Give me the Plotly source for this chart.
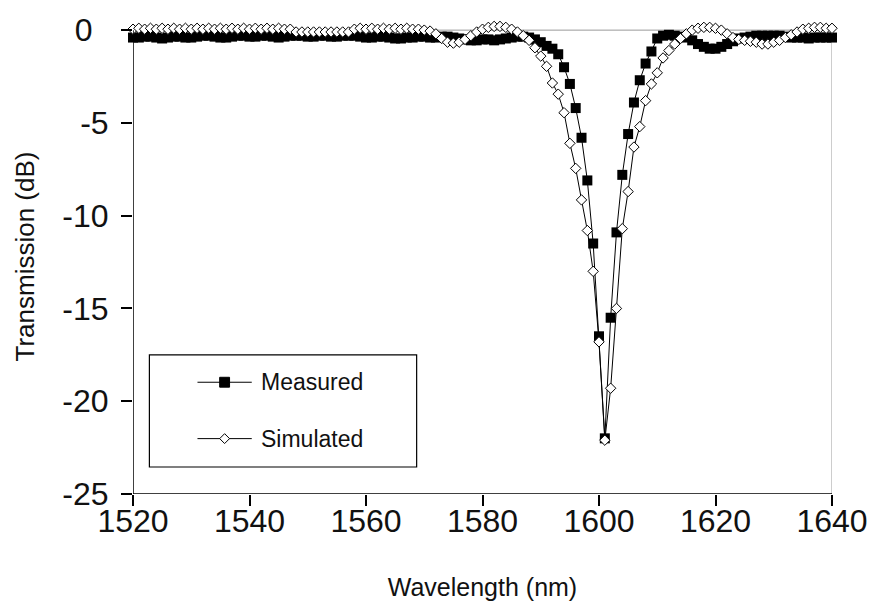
import plotly.graph_objects as go

# Wavelength grid (nm)
wavelength = list(range(1520, 1641))

# Measured transmission (dB)
measured = [
    -0.40, -0.40, -0.35, -0.35, -0.40, -0.45, -0.40, -0.35, -0.35, -0.40,
    -0.40, -0.35, -0.30, -0.30, -0.35, -0.40, -0.40, -0.35, -0.30, -0.30,
    -0.35, -0.35, -0.30, -0.30, -0.35, -0.40, -0.35, -0.30, -0.30, -0.30,
    -0.35, -0.35, -0.30, -0.30, -0.35, -0.35, -0.30, -0.30, -0.30, -0.35,
    -0.40, -0.40, -0.35, -0.35, -0.40, -0.45, -0.45, -0.40, -0.40, -0.35,
    -0.35, -0.40, -0.40, -0.35, -0.35, -0.40, -0.45, -0.50, -0.55, -0.55,
    -0.50, -0.50, -0.55, -0.50, -0.45, -0.40, -0.35, -0.35, -0.40, -0.50,
    -0.65, -0.85, -1.00, -1.30, -2.00, -2.90, -4.20, -5.80, -8.10, -11.50,
    -16.50, -22.00, -15.50, -10.90, -7.80, -5.60, -3.90, -2.70, -1.80, -1.15,
    -0.45, -0.30, -0.25, -0.30, -0.35, -0.40, -0.55, -0.75, -0.90, -1.00,
    -1.00, -0.90, -0.75, -0.60, -0.45, -0.40, -0.35, -0.30, -0.30, -0.30,
    -0.30, -0.30, -0.35, -0.40, -0.40, -0.40, -0.45, -0.40, -0.40, -0.40,
    -0.40,
]

# Simulated transmission (dB)
simulated = [
    0.05, 0.10, 0.05, 0.10, 0.05, 0.10, 0.05, 0.10, 0.05, 0.10,
    0.05, 0.10, 0.05, 0.10, 0.05, 0.10, 0.05, 0.10, 0.05, 0.10,
    0.05, 0.10, 0.05, 0.10, 0.05, 0.10, 0.05, 0.05, -0.10, -0.10,
    -0.10, -0.10, -0.10, -0.10, -0.10, -0.10, -0.10, -0.10, 0.05, 0.10,
    0.05, 0.10, 0.05, 0.10, 0.05, 0.10, 0.05, 0.10, 0.05, 0.05,
    0.00, -0.05, -0.20, -0.45, -0.65, -0.70, -0.65, -0.50, -0.30, -0.10,
    0.05, 0.15, 0.20, 0.20, 0.15, 0.05, -0.10, -0.30, -0.55, -0.95,
    -1.40, -1.95, -2.85, -3.45, -4.45, -6.10, -7.45, -9.15, -10.80, -13.00,
    -16.80, -22.10, -19.30, -15.00, -10.70, -8.70, -6.30, -5.20, -3.80, -2.90,
    -2.30, -1.50, -1.10, -0.75, -0.45, -0.20, 0.00, 0.10, 0.15, 0.15,
    0.10, 0.00, -0.20, -0.40, -0.50, -0.55, -0.60, -0.65, -0.75, -0.75,
    -0.65, -0.55, -0.40, -0.25, -0.10, 0.05, 0.10, 0.15, 0.15, 0.10,
    0.10,
]

x_ticks = [1520, 1540, 1560, 1580, 1600, 1620, 1640]
y_ticks = [0, -5, -10, -15, -20, -25]
y_tick_text = ["0\u2002", "-5", "-10", "-15", "-20", "-25"]

FONT = "Liberation Sans, Arial, sans-serif"
INK = "#111111"

W, H = 880, 613
X0, X1 = 132.7, 840.7          # plot area, pixels
Y_TOP_VAL, Y_BOT = 0.6, 494.0  # y range top value, bottom pixel
PX_PER_DB = 18.76
plot_h = (Y_TOP_VAL + 25) * PX_PER_DB
Y_TOP_PX = Y_BOT - plot_h


def px_to_paper_x(px):
    return (px - X0) / (X1 - X0)


def px_to_paper_y(py):
    return (Y_BOT - py) / plot_h


fig = go.Figure()

fig.add_trace(go.Scatter(
    x=wavelength, y=measured, name="Measured", mode="lines+markers",
    line=dict(color="black", width=1),
    marker=dict(symbol="square", size=10, color="black",
                line=dict(color="black", width=0)),
    cliponaxis=False, showlegend=False,
))
fig.add_trace(go.Scatter(
    x=wavelength, y=simulated, name="Simulated", mode="lines+markers",
    line=dict(color="black", width=1),
    marker=dict(symbol="diamond", size=8, color="white",
                line=dict(color="black", width=1)),
    cliponaxis=False, showlegend=False,
))

shapes = [
    # plot-area frame (grey) on top and right
    dict(type="line", xref="x", yref="y", x0=1520, x1=1640, y0=0, y1=0,
         line=dict(color="#9a9a9a", width=1), layer="below"),
    dict(type="line", xref="x", yref="y", x0=1640, x1=1640, y0=-25, y1=0,
         line=dict(color="#9a9a9a", width=1), layer="below"),
    # axes
    dict(type="line", xref="x", yref="y", x0=1520, x1=1640, y0=-25, y1=-25,
         line=dict(color="black", width=1.5), layer="above"),
    dict(type="line", xref="x", yref="y", x0=1520, x1=1520, y0=-25, y1=0,
         line=dict(color="black", width=1.5), layer="above"),
]

# legend box
LX0, LX1, LY0, LY1 = 149.3, 420.0, 353.3, 466.7
shapes.append(dict(type="rect", xref="paper", yref="paper",
                   x0=px_to_paper_x(LX0), x1=px_to_paper_x(LX1),
                   y0=px_to_paper_y(LY1), y1=px_to_paper_y(LY0),
                   line=dict(color="black", width=1.2), fillcolor="white",
                   layer="above"))

legend_rows = [("Measured", 381.0, "square"), ("Simulated", 438.0, "diamond")]
annotations = []
for label, ry, sym in legend_rows:
    shapes.append(dict(type="line", xref="paper", yref="paper",
                       x0=px_to_paper_x(198), x1=px_to_paper_x(253),
                       y0=px_to_paper_y(ry), y1=px_to_paper_y(ry),
                       line=dict(color="black", width=1), layer="above"))
    cx, cy = 225.5, ry
    s = 5
    if sym == "square":
        pts = [(cx - s, cy - s), (cx + s, cy - s), (cx + s, cy + s), (cx - s, cy + s)]
        fill = "black"
    else:
        pts = [(cx - s, cy), (cx, cy - s), (cx + s, cy), (cx, cy + s)]
        fill = "white"
    path = "M " + " L ".join(f"{px_to_paper_x(a)} {px_to_paper_y(b)}" for a, b in pts) + " Z"
    shapes.append(dict(type="path", xref="paper", yref="paper", path=path,
                       fillcolor=fill, line=dict(color="black", width=1),
                       layer="above"))
    annotations.append(dict(xref="paper", yref="paper",
                            x=px_to_paper_x(260), y=px_to_paper_y(ry),
                            xanchor="left", yanchor="middle", showarrow=False,
                            text=label, font=dict(family=FONT, size=23, color=INK)))

fig.update_layout(
    width=W, height=H,
    margin=dict(l=X0, r=W - X1, t=Y_TOP_PX, b=H - Y_BOT, pad=0),
    paper_bgcolor="white", plot_bgcolor="white",
    showlegend=False,
    shapes=shapes, annotations=annotations,
    xaxis=dict(
        range=[1520, 1640], tickvals=x_ticks, ticktext=[str(v) for v in x_ticks],
        showgrid=False, zeroline=False, showline=False,
        ticks="outside", ticklen=11, tickwidth=1.5, tickcolor="black",
        ticklabelstandoff=-12,
        tickfont=dict(family=FONT, size=32, color=INK),
        title=dict(text="Wavelength (nm)", font=dict(family=FONT, size=25, color=INK),
                   standoff=40),
    ),
    yaxis=dict(
        range=[-25, Y_TOP_VAL], tickvals=y_ticks, ticktext=y_tick_text,
        showgrid=False, zeroline=False, showline=False,
        ticks="outside", ticklen=11, tickwidth=1.5, tickcolor="black",
        ticklabelstandoff=6,
        tickfont=dict(family=FONT, size=32, color=INK),
        title=dict(text="Transmission (dB)", font=dict(family=FONT, size=26, color=INK),
                   standoff=20),
    ),
)

fig.write_html("out.html")
